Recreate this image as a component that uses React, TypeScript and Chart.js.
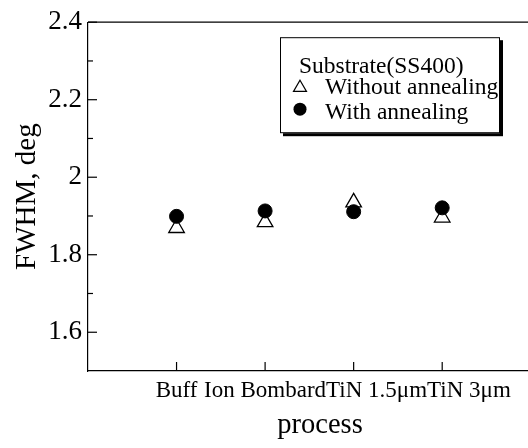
import { useEffect, useRef } from 'react';
import { Chart, registerables } from 'chart.js';

Chart.register(...registerables);

const categories = ['Buff', 'Ion Bombard', 'TiN 1.5μm', 'TiN 3μm'];
const categoryPositions = [1, 2, 3, 4];
const withoutAnnealing = [1.869, 1.884, 1.935, 1.896];
const withAnnealing = [1.899, 1.913, 1.911, 1.921];
const yMajorLabels = ['1.6', '1.8', '2', '2.2', '2.4'];
const legendTitle = 'Substrate(SS400)';
const seriesNames = ['Without annealing', 'With annealing'];
const xTitle = 'process';
const yTitle = 'FWHM, deg';

const SERIF = '"Liberation Serif", "Times New Roman", serif';
const LINE = '#000';

function drawTriangle(ctx: CanvasRenderingContext2D, x: number, y: number, r: number) {
  const h = (r * Math.sqrt(3)) / 2;
  ctx.beginPath();
  ctx.moveTo(x, y - r);
  ctx.lineTo(x + h, y + r / 2);
  ctx.lineTo(x - h, y + r / 2);
  ctx.closePath();
}

const decorPlugin = {
  id: 'decor',
  afterDraw(chart: any) {
    const { ctx, chartArea } = chart;
    const xs = chart.scales.x;
    const ys = chart.scales.y;
    ctx.save();
    ctx.strokeStyle = LINE;
    ctx.lineWidth = 1.2;
    // top frame
    ctx.beginPath();
    ctx.moveTo(chartArea.left, chartArea.top);
    ctx.lineTo(chartArea.right, chartArea.top);
    ctx.stroke();
    // y inward ticks
    ys.ticks.forEach((t: any) => {
      const y = ys.getPixelForValue(t.value);
      if (Math.abs(y - chartArea.bottom) < 1) return;
      const len = t.label !== '' ? 9 : 5;
      ctx.beginPath();
      ctx.moveTo(chartArea.left, y);
      ctx.lineTo(chartArea.left + len, y);
      ctx.stroke();
    });
    // x inward ticks + labels laid out without overlap
    ctx.font = `23px ${SERIF}`;
    ctx.fillStyle = '#000';
    ctx.textBaseline = 'alphabetic';
    ctx.textAlign = 'left';
    let prevEnd = -Infinity;
    categories.forEach((c, i) => {
      const x = xs.getPixelForValue(categoryPositions[i]);
      ctx.beginPath();
      ctx.moveTo(x, chartArea.bottom);
      ctx.lineTo(x, chartArea.bottom - 9);
      ctx.stroke();
      const w = ctx.measureText(c).width;
      const start = Math.max(x - w / 2, prevEnd);
      ctx.fillText(c, start, chartArea.bottom + 26);
      prevEnd = start + w;
    });
    // legend box
    const bx = chartArea.left + 192;
    const by = chartArea.top + 15;
    const bw = 220;
    const bh = 96;
    ctx.fillStyle = '#000';
    ctx.fillRect(bx + 3, by + 3, bw, bh);
    ctx.fillStyle = '#fff';
    ctx.fillRect(bx, by, bw, bh);
    ctx.lineWidth = 1;
    ctx.strokeRect(bx + 0.5, by + 0.5, bw - 1, bh - 1);
    ctx.fillStyle = '#000';
    ctx.font = `23.5px ${SERIF}`;
    ctx.fillText(legendTitle, bx + 19, by + 36);
    ctx.fillText(seriesNames[0], bx + 45, by + 57);
    ctx.fillText(seriesNames[1], bx + 45, by + 82);
    // legend markers
    ctx.lineWidth = 1.2;
    drawTriangle(ctx, bx + 20, by + 50.5, 7.5);
    ctx.fillStyle = '#fff';
    ctx.fill();
    ctx.stroke();
    ctx.beginPath();
    ctx.arc(bx + 20, by + 72, 6.5, 0, Math.PI * 2);
    ctx.fillStyle = '#000';
    ctx.fill();
    ctx.restore();
  },
};

export default function App() {
  const ref = useRef<HTMLCanvasElement>(null);
  useEffect(() => {
    const chart = new Chart(ref.current as HTMLCanvasElement, {
      type: 'scatter',
      data: {
        datasets: [
          {
            label: seriesNames[0],
            data: categoryPositions.map((x, i) => ({ x, y: withoutAnnealing[i] })),
            pointStyle: 'triangle',
            pointRadius: 9,
            backgroundColor: '#fff',
            borderColor: '#000',
            borderWidth: 1.3,
            order: 2,
          },
          {
            label: seriesNames[1],
            data: categoryPositions.map((x, i) => ({ x, y: withAnnealing[i] })),
            pointStyle: 'circle',
            pointRadius: 7,
            backgroundColor: '#000',
            borderColor: '#000',
            borderWidth: 1,
            order: 1,
          },
        ],
      },
      options: {
        responsive: false,
        animation: false,
        devicePixelRatio: 1,
        events: [],
        layout: { autoPadding: false, padding: { left: 0, top: 20, right: 0, bottom: 0 } },
        plugins: { legend: { display: false }, tooltip: { enabled: false } },
        scales: {
          x: {
            type: 'linear',
            min: 0,
            max: 5.24,
            grid: { display: false, drawTicks: false },
            border: { display: true, color: LINE, width: 1.2 },
            ticks: { display: false, stepSize: 1 },
            title: {
              display: true,
              text: xTitle,
              color: '#000',
              font: { family: SERIF, size: 28.5, lineHeight: 1.2 },
              padding: { top: 37.9, bottom: 4.9 },
            },
          },
          y: {
            min: 1.5,
            max: 2.4,
            grid: { display: false, drawTicks: false },
            border: { display: true, color: LINE, width: 1.2 },
            ticks: {
              stepSize: 0.1,
              autoSkip: false,
              padding: 6,
              color: '#000',
              font: { family: SERIF, size: 27 },
              callback: (value: any) => {
                const s = String(Math.round(Number(value) * 10) / 10);
                return yMajorLabels.includes(s) ? s : '';
              },
            },
            title: {
              display: true,
              text: yTitle,
              color: '#000',
              font: { family: SERIF, size: 29, lineHeight: 1.0 },
              padding: { top: 12.5, bottom: 0.75 },
            },
          },
        },
      },
      plugins: [decorPlugin],
    });
    return () => chart.destroy();
  }, []);
  return (
    <div style={{ position: 'fixed', left: 0, top: 0, width: 528, height: 448, overflow: 'hidden', background: '#fff' }}>
      <canvas ref={ref} width={552} height={448} style={{ display: 'block' }} />
    </div>
  );
}
